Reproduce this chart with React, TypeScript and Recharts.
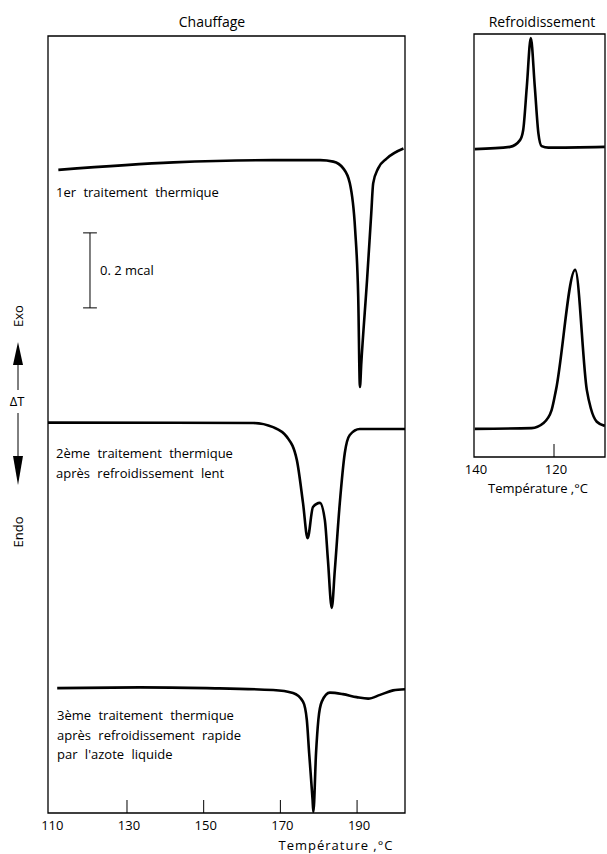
import React from "react";
import {
  Line,
  LineChart,
  ReferenceArea,
  ReferenceLine,
  XAxis,
  YAxis,
} from "recharts";

// Chauffage (heating) curves: temperature in °C, signal in mcal
const heat1Temp = [112.1, 142.1, 168.1, 180.4, 183.8, 186.4, 188.1, 189.5, 190.3, 190.75, 191.1, 192.6, 193.7, 194.2, 195.5, 197.7, 202.1];
const heat1Signal = [1.715, 1.735, 1.741, 1.741, 1.737, 1.719, 1.68, 1.555, 1.376, 1.136, 1.199, 1.421, 1.599, 1.679, 1.719, 1.745, 1.772];

const heat2Temp = [109.4, 162.9, 168.1, 171.7, 174.3, 175.9, 177.1, 178.5, 180.3, 181.6, 182.4, 183.4, 184.2, 185.5, 186.8, 188.1, 190.7, 202.5];
const heat2Signal = [1.041, 1.04, 1.029, 1.003, 0.941, 0.827, 0.733, 0.816, 0.827, 0.781, 0.675, 0.547, 0.648, 0.827, 0.96, 1.008, 1.024, 1.024];

const heat3Temp = [111.8, 133.4, 150.8, 168.1, 173.3, 175.9, 176.9, 177.5, 178.4, 178.6, 179.3, 179.9, 180.8, 182.9, 186.3, 189.9, 192.9, 196.0, 199.4, 202.5];
const heat3Signal = [0.333, 0.335, 0.333, 0.328, 0.32, 0.297, 0.248, 0.16, 0.035, 0.003, 0.16, 0.248, 0.297, 0.321, 0.317, 0.309, 0.305, 0.315, 0.327, 0.33];

// Refroidissement (cooling) curves
const cool1Temp = [139.8, 131.0, 128.5, 127.7, 126.8, 125.8, 124.8, 123.9, 123.1, 121.4, 107.3];
const cool1Signal = [0.821, 0.827, 0.845, 0.872, 0.987, 1.117, 0.987, 0.863, 0.829, 0.825, 0.827];

const cool2Temp = [139.8, 125.6, 122.7, 120.6, 119.5, 114.7, 111.8, 110.8, 109.3, 107.3];
const cool2Signal = [0.075, 0.077, 0.09, 0.125, 0.179, 0.499, 0.179, 0.13, 0.094, 0.083];

const heatTicks = [110, 130, 150, 170, 190];
const coolTicks = [140, 120];
const heatDomain = [109.4, 202.5];
const coolDomain = [107.25, 140];
const heatSignalMax = 2.072;
const coolSignalMax = 1.128;

// 0.2 mcal scale bar
const scaleBarTemp = 120.35;
const scaleBarBottom = 1.347;
const scaleBarHeight = 0.2;
const scaleBarCap = 1.8;

const zip = (temps: number[], values: number[]) =>
  temps.map((t, i) => ({ t, y: values[i] }));

const FONT = "'Open Sans', 'DejaVu Sans', sans-serif";
const INK = "#000";

const InnerTick = (props: any) => {
  const { x, y, payload, showLine } = props;
  return (
    <g>
      {showLine && <line x1={x} x2={x} y1={y} y2={y - 13} stroke={INK} strokeWidth={1} />}
      <text x={x + 2} y={y + 17} textAnchor="middle" fontFamily={FONT} fontSize={13} fill={INK}>
        {payload.value}
      </text>
    </g>
  );
};

const curveStyle = { stroke: "#000", strokeWidth: 2.6, fill: "none" };

function HeatingChart() {
  return (
    <LineChart width={420} height={854} margin={{ top: 36, left: 48, right: 15, bottom: 11 }}>
      <XAxis
        dataKey="t"
        type="number"
        domain={heatDomain}
        ticks={heatTicks}
        allowDataOverflow
        axisLine={false}
        tickLine={false}
        tickSize={0}
        tickMargin={0}
        height={30}
        tick={(p: any) => <InnerTick {...p} showLine={p.payload.value !== 110} />}
      />
      <YAxis type="number" domain={[0, heatSignalMax]} allowDataOverflow hide />
      <ReferenceArea x1={heatDomain[0]} x2={heatDomain[1]} y1={0} y2={heatSignalMax} fill="none" stroke={INK} strokeWidth={1.3} />
      <ReferenceLine
        segment={[{ x: scaleBarTemp, y: scaleBarBottom }, { x: scaleBarTemp, y: scaleBarBottom + scaleBarHeight }]}
        stroke={INK}
        strokeWidth={1}
      />
      <ReferenceLine
        segment={[{ x: scaleBarTemp - scaleBarCap, y: scaleBarBottom }, { x: scaleBarTemp + scaleBarCap, y: scaleBarBottom }]}
        stroke={INK}
        strokeWidth={1}
      />
      <ReferenceLine
        segment={[
          { x: scaleBarTemp - scaleBarCap, y: scaleBarBottom + scaleBarHeight },
          { x: scaleBarTemp + scaleBarCap, y: scaleBarBottom + scaleBarHeight },
        ]}
        stroke={INK}
        strokeWidth={1}
      />
      <Line data={zip(heat1Temp, heat1Signal)} dataKey="y" type="monotone" dot={false} isAnimationActive={false} {...curveStyle} />
      <Line data={zip(heat2Temp, heat2Signal)} dataKey="y" type="monotone" dot={false} isAnimationActive={false} {...curveStyle} />
      <Line data={zip(heat3Temp, heat3Signal)} dataKey="y" type="monotone" dot={false} isAnimationActive={false} {...curveStyle} />
    </LineChart>
  );
}

function CoolingChart() {
  return (
    <LineChart width={167} height={500} margin={{ top: 34, left: 34, right: 2, bottom: 13 }}>
      <XAxis
        dataKey="t"
        type="number"
        domain={coolDomain}
        ticks={coolTicks}
        reversed
        allowDataOverflow
        axisLine={false}
        tickLine={false}
        tickSize={0}
        tickMargin={0}
        height={30}
        tick={(p: any) => <InnerTick {...p} showLine={p.payload.value !== 140} />}
      />
      <YAxis type="number" domain={[0, coolSignalMax]} allowDataOverflow hide />
      <ReferenceArea x1={coolDomain[0]} x2={coolDomain[1]} y1={0} y2={coolSignalMax} fill="none" stroke={INK} strokeWidth={1.3} />
      <Line data={zip(cool1Temp, cool1Signal)} dataKey="y" type="monotone" dot={false} isAnimationActive={false} {...curveStyle} />
      <Line data={zip(cool2Temp, cool2Signal)} dataKey="y" type="monotone" dot={false} isAnimationActive={false} {...curveStyle} />
    </LineChart>
  );
}

const textProps = { fontFamily: FONT, fontSize: 13, fill: INK, wordSpacing: 4 };

export default function App() {
  return (
    <div style={{ position: "absolute", left: 0, top: 0, width: 607, height: 854, background: "#fff", overflow: "hidden" }}>
      <div style={{ position: "absolute", left: 0, top: 0 }}>
        <HeatingChart />
      </div>
      <div style={{ position: "absolute", left: 440, top: 0 }}>
        <CoolingChart />
      </div>
      <svg width={607} height={854} style={{ position: "absolute", left: 0, top: 0, pointerEvents: "none" }}>
        <text x={212} y={27} textAnchor="middle" {...textProps} fontSize={14}>Chauffage</text>
        <text x={542} y={27} textAnchor="middle" {...textProps} fontSize={14} wordSpacing={0}>Refroidissement</text>

        <text x={56} y={197} {...textProps}>1er traitement thermique</text>
        <text x={100} y={275} {...textProps} wordSpacing={0}>0. 2 mcal</text>

        <text x={56} y={458} {...textProps}>2ème traitement thermique</text>
        <text x={56} y={478} {...textProps}>après refroidissement lent</text>

        <text x={57} y={720} {...textProps}>3ème traitement thermique</text>
        <text x={57} y={740} {...textProps}>après refroidissement rapide</text>
        <text x={57} y={759} {...textProps}>par l'azote liquide</text>

        <text x={336} y={850} textAnchor="middle" {...textProps} wordSpacing={0} letterSpacing={1}>Température ,°C</text>
        <text x={538} y={493} textAnchor="middle" {...textProps} wordSpacing={0}>Température ,°C</text>

        {/* ΔT indicator */}
        <text x={0} y={0} transform="translate(23 316) rotate(-90)" textAnchor="middle" {...textProps} wordSpacing={0}>Exo</text>
        <polygon points="18,342 13,365 23,365" fill={INK} />
        <line x1={18} x2={18} y1={364} y2={390} stroke={INK} strokeWidth={1} />
        <text x={17} y={406} textAnchor="middle" {...textProps} wordSpacing={0}>ΔT</text>
        <line x1={18} x2={18} y1={413} y2={458} stroke={INK} strokeWidth={1} />
        <polygon points="13,456 23,456 18,485" fill={INK} />
        <text x={0} y={0} transform="translate(23 532) rotate(-90)" textAnchor="middle" {...textProps} wordSpacing={0}>Endo</text>
      </svg>
    </div>
  );
}
